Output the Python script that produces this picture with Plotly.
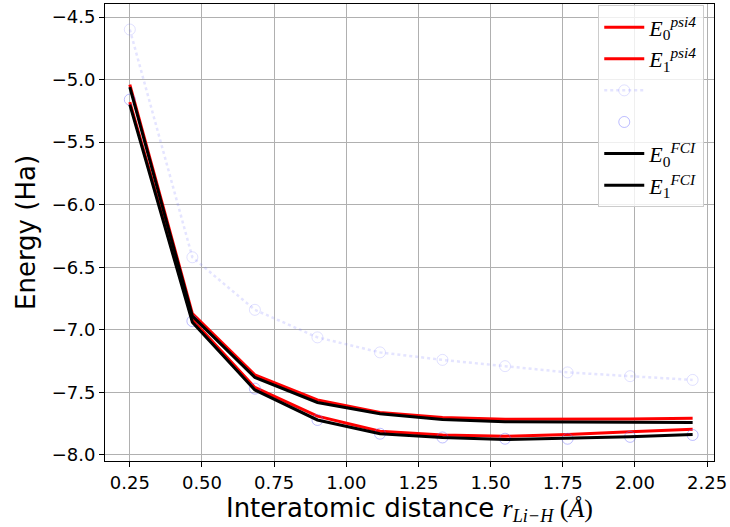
import plotly.graph_objects as go

# Interatomic distances (Å)
r = [0.25, 0.4667, 0.6833, 0.9, 1.1167, 1.3333, 1.55, 1.7667, 1.9833, 2.2]

# Energies (Ha)
E0_psi4 = [-5.18, -6.92, -7.46, -7.69, -7.81, -7.84, -7.85, -7.836, -7.815, -7.794]
E1_psi4 = [-5.04, -6.87, -7.36, -7.56, -7.66, -7.70, -7.714, -7.714, -7.712, -7.706]
E0_fci = [-5.20, -6.94, -7.48, -7.72, -7.83, -7.86, -7.876, -7.868, -7.855, -7.836]
E1_fci = [-5.06, -6.89, -7.38, -7.58, -7.67, -7.716, -7.735, -7.738, -7.738, -7.74]

# faint (blurred) VQE trail
vqe_upper = [-4.60, -6.42, -6.84, -7.06, -7.18, -7.24, -7.29, -7.34, -7.37, -7.40]
vqe_lower = [-5.16, -6.93, -7.47, -7.72, -7.83, -7.86, -7.87, -7.87, -7.855, -7.84]

serif = "Liberation Serif"

def lab(sub, sup):
    return f"<i>E</i><sub>{sub}</sub><sup><i>{sup}</i></sup>"

fig = go.Figure()
fig.add_trace(go.Scatter(x=r, y=E0_psi4, mode="lines", line=dict(color="red", width=3),
                         name=lab(0, "psi4")))
fig.add_trace(go.Scatter(x=r, y=E1_psi4, mode="lines", line=dict(color="red", width=3),
                         name=lab(1, "psi4")))
fig.add_trace(go.Scatter(x=r, y=vqe_upper, mode="lines+markers",
                         line=dict(color="rgba(120,120,255,0.2)", width=2.5, dash="dot"),
                         marker=dict(symbol="circle-open", size=11, color="rgba(120,120,255,0.22)"),
                         name=" "))
fig.add_trace(go.Scatter(x=r, y=vqe_lower, mode="lines+markers",
                         marker=dict(symbol="circle-open", size=11, color="rgba(110,110,255,0.45)"),
                         line=dict(color="rgba(120,120,255,0.0)", width=2.5, dash="dot"),
                         name="  "))
fig.add_trace(go.Scatter(x=r, y=E0_fci, mode="lines", line=dict(color="black", width=3),
                         name=lab(0, "FCI")))
fig.add_trace(go.Scatter(x=r, y=E1_fci, mode="lines", line=dict(color="black", width=3),
                         name=lab(1, "FCI")))

axis_common = dict(
    showgrid=True, gridcolor="#b0b0b0", gridwidth=1,
    showline=True, linecolor="black", linewidth=1, mirror=True,
    ticks="outside", ticklen=5, tickcolor="black",
    tickfont=dict(family="DejaVu Sans", size=18, color="black"),
    zeroline=False, ticklabeloverflow="allow",
)

fig.update_layout(
    width=730, height=527,
    margin=dict(l=105, r=12, t=3, b=66),
    paper_bgcolor="white", plot_bgcolor="white",
    xaxis=dict(range=[0.164, 2.274], tickvals=[0.25, 0.5, 0.75, 1.0, 1.25, 1.5, 1.75, 2.0, 2.25],
               ticktext=["0.25", "0.50", "0.75", "1.00", "1.25", "1.50", "1.75", "2.00", "2.25"],
               title=dict(text=f"Interatomic distance <span style='font-family:{serif}'><i>r</i><sub><i>Li−H</i></sub> (<i>Å</i>)</span>",
                          font=dict(family="DejaVu Sans", size=26, color="black"), standoff=2),
               **axis_common),
    yaxis=dict(range=[-8.048, -4.396], tickvals=[-8.0, -7.5, -7.0, -6.5, -6.0, -5.5, -5.0, -4.5],
               ticktext=["−8.0", "−7.5", "−7.0", "−6.5", "−6.0", "−5.5", "−5.0", "−4.5"],
               title=dict(text="Energy (Ha)", font=dict(family="DejaVu Sans", size=26, color="black"), standoff=8),
               **axis_common),
    legend=dict(x=0.984, y=0.997, xanchor="right", yanchor="top",
                bgcolor="rgba(255,255,255,0.8)", bordercolor="#cccccc", borderwidth=1,
                font=dict(family=serif, size=22, color="black"),
                itemwidth=40),
    showlegend=True,
)

fig.write_html("out.html", config={"displayModeBar": False},
               post_script="document.body.style.margin='0';")
